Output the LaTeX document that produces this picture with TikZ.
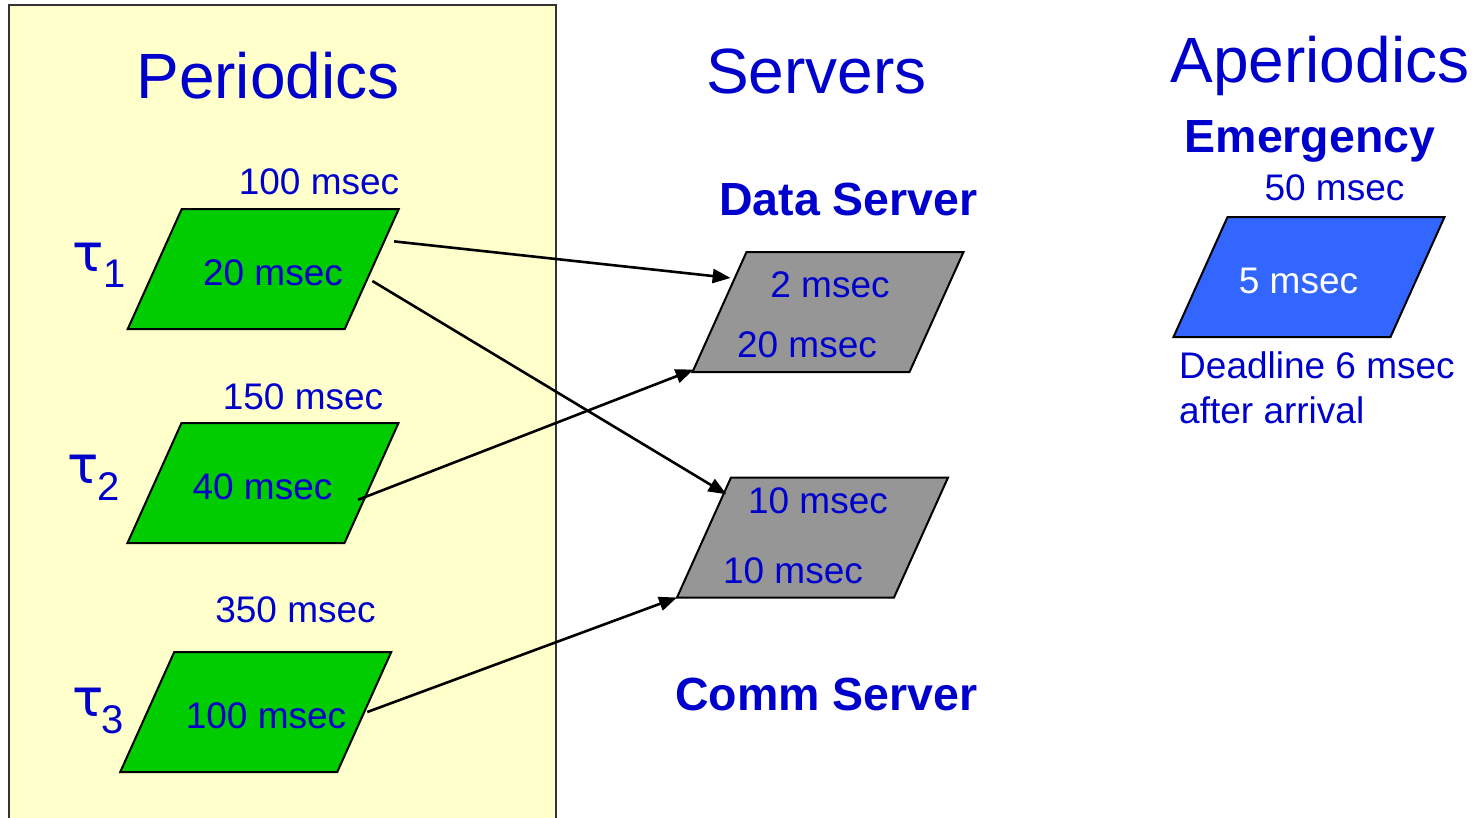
\documentclass[tikz,border=0pt]{standalone}
\usepackage{fontspec}
\setmainfont{Liberation Sans}
\newfontfamily\greekfont{DejaVu Sans}
\usetikzlibrary{calc,arrows.meta}

\definecolor{txtblue}{HTML}{0000CC}
\definecolor{taskgreen}{HTML}{00CC00}
\definecolor{servgrey}{HTML}{969696}
\definecolor{emblue}{HTML}{3366FF}
\definecolor{panelyellow}{HTML}{FFFFCC}

\tikzset{
  title/.style={text=txtblue, inner sep=0pt, anchor=base, font=\fontsize{64}{70}\selectfont},
  subtitle/.style={text=txtblue, inner sep=0pt, anchor=base, font=\fontsize{46.5}{50}\selectfont\bfseries},
  val/.style={text=txtblue, inner sep=0pt, anchor=base, font=\fontsize{37}{41}\selectfont},
  taulbl/.style={text=txtblue, inner sep=0pt, anchor=base west, font=\greekfont\fontsize{52}{56}\selectfont},
  tauidx/.style={text=txtblue, inner sep=0pt, anchor=base west, font=\fontsize{40}{44}\selectfont},
  shapeline/.style={draw=black, line width=2pt, line join=miter},
  link/.style={draw=black, line width=2.6pt, -{Triangle[length=18pt,width=14pt]}},
}

% slanted box: name, centre, fill colour
\newcommand\slantbox[3]{%
  \begin{scope}[shift={(#2)}]
    \coordinate (#1) at (0,0);
    \coordinate (#1-tl) at (-81.5,-60);
    \coordinate (#1-tr) at (135.5,-60);
    \coordinate (#1-br) at (81.5,60);
    \coordinate (#1-bl) at (-135.5,60);
  \end{scope}
  \draw[shapeline, fill=#3] (#1-tl) -- (#1-tr) -- (#1-br) -- (#1-bl) -- cycle;
}

\begin{document}
\begin{tikzpicture}[x=1pt, y=-1pt]
  \useasboundingbox (0,0) rectangle (1480,817);
  \begin{scope}
    \clip (0,0) rectangle (1480,817);
    % periodic task panel
    \fill[white] (0,0) rectangle (1480,817);
    \draw[fill=panelyellow, draw=black!80, line width=1.5pt] (9,5) rectangle (556,840);
  \end{scope}

  % column headings
  \node[title] (hper) at (268,98) {Periodics};
  \node[title] (hsrv) at (816.5,93) {Servers};
  \node[title] (hape) at (1320,82) {Aperiodics};

  % periodic tasks
  \slantbox{t1}{263.25,269}{taskgreen}
  \slantbox{t2}{263,483}{taskgreen}
  \slantbox{t3}{255.75,712}{taskgreen}

  \node[val] (p1) at (319,194) {100 msec};
  \node[val] (c1) at (273,285) {20 msec};
  \node[val] (p2) at (303,409) {150 msec};
  \node[val] (c2) at (262.5,499) {40 msec};
  \node[val] (p3) at (295.5,622) {350 msec};
  \node[val] (c3) at (266,728) {100 msec};

  \node[taulbl] (tau1) at (72,271) {τ};
  \node[tauidx] (idx1) at (103,287) {1};
  \node[taulbl] (tau2) at (67,483) {τ};
  \node[tauidx] (idx2) at (97,500) {2};
  \node[taulbl] (tau3) at (72,716) {τ};
  \node[tauidx] (idx3) at (101,733) {3};

  % servers
  \node[subtitle] (dsname) at (848.5,215) {Data Server};
  \slantbox{ds}{828,312}{servgrey}
  \node[val] (dsb) at (830,297) {2 msec};
  \node[val] (dsp) at (807,357) {20 msec};

  \slantbox{cs}{812.5,537.5}{servgrey}
  \node[val] (csb) at (818,513) {10 msec};
  \node[val] (csp) at (793,583) {10 msec};
  \node[subtitle] (csname) at (826.5,710) {Comm Server};

  % aperiodic task
  \node[subtitle] (emname) at (1310,152) {Emergency};
  \node[val] (emp) at (1334.5,200) {50 msec};
  \slantbox{em}{1309,277}{emblue}
  \node[val, text=white] (emc) at (1298.5,293) {5 msec};
  \node[val, anchor=base west] (emd1) at (1179,378) {Deadline 6 msec};
  \node[val, anchor=base west] (emd2) at (1179,423) {after arrival};

  % task to server assignments
  \draw[link, shorten >=4pt] ($(t1-tr)!0.27!(t1-br)+(10,0)$) -- ($(ds-tl)!0.22!(ds-bl)$);
  \draw[link] ($(t1-tr)!0.6!(t1-br)+(6,0)$) -- ($(cs-tl)!0.14!(cs-bl)+(3,0)$);
  \draw[link] ($(t2-tr)!0.64!(t2-br)+(-6,0)$) -- ($(ds-bl)!0.02!(ds-tl)$);
  \draw[link] ($(t3-tr)!0.5!(t3-br)+(3,0)$) -- (cs-bl);
\end{tikzpicture}
\end{document}
